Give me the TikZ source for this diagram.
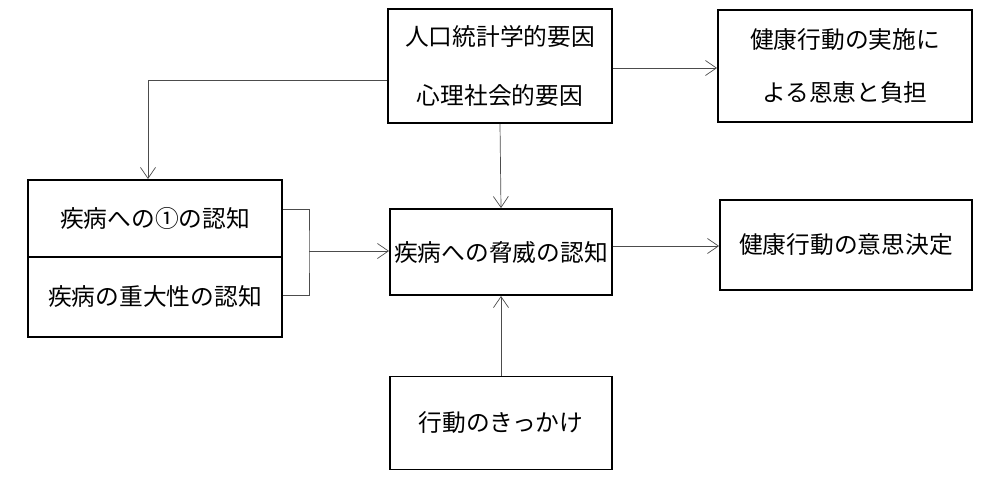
\documentclass[tikz,border=0pt]{standalone}
\usepackage{fontspec}
\newfontfamily\cjk{Noto Sans CJK JP}
\usetikzlibrary{arrows.meta}
\begin{document}
\begin{tikzpicture}[x=0.02cm,y=-0.02cm,>={Straight Barb[length=2.2mm,width=3mm]},
  box/.style={draw,line width=1.1pt,font=\cjk\fontsize{13.5}{19}\selectfont,align=center,inner sep=0pt},
  link/.style={->,thin,black!70}]
\useasboundingbox (0,0) rectangle (1000,494);
\node[box,minimum width=224*0.02cm,minimum height=114*0.02cm] (demo) at (500,66)
  {人口統計学的要因\\[5mm]心理社会的要因};
\node[box,minimum width=254*0.02cm,minimum height=112*0.02cm] (benefit) at (845,66)
  {健康行動の実施に\\[4mm]よる恩恵と負担};
\node[box,minimum width=254*0.02cm,minimum height=77*0.02cm] (suscept) at (155,218.5) {疾病への①の認知};
\node[box,minimum width=254*0.02cm,minimum height=80*0.02cm] (severity) at (155,297) {疾病の重大性の認知};
\node[box,minimum width=222*0.02cm,minimum height=86*0.02cm] (threat) at (501,252) {疾病への脅威の認知};
\node[box,minimum width=252*0.02cm,minimum height=90*0.02cm] (decision) at (846,245) {健康行動の意思決定};
\node[box,minimum width=222*0.02cm,minimum height=93*0.02cm] (cue) at (501,423) {行動のきっかけ};
\coordinate (brk) at (309,251);
% connectors
\draw[link] (demo.west |- 0,80) -| (suscept.north -| 148,0);
\draw[link] (demo.east |- 0,68) -- (benefit.west |- 0,68);
\draw[link] (demo.south) -- (threat.north);
\draw[thin,black!70] (suscept.east |- 0,209) -| (brk) |- (severity.east |- 0,295);
\draw[link] (brk) -- (threat.west |- brk);
\draw[link] (threat.east |- 0,246) -- (decision.west |- 0,246);
\draw[link] (cue.north) -- (threat.south);
\end{tikzpicture}
\end{document}
